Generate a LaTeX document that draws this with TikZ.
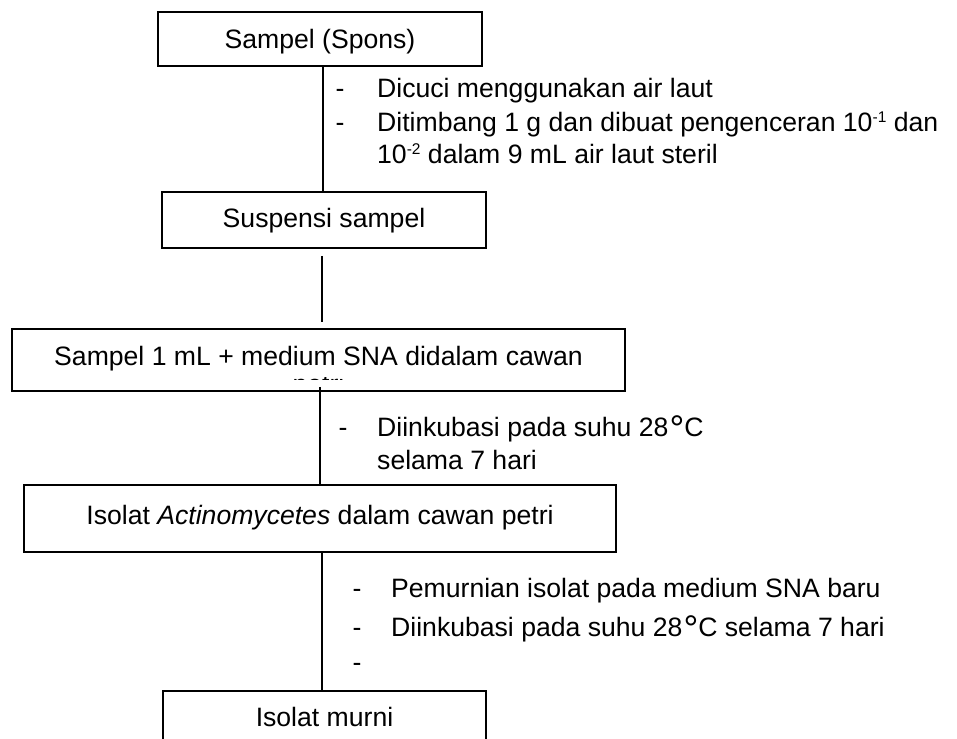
\documentclass[tikz,border=0pt]{standalone}
\usepackage{fontspec}
\setmainfont{Liberation Sans}
\newcommand\supx[1]{\raisebox{0.36em}{\fontsize{15.5}{16}\selectfont #1}}
\newcommand\degx{\hspace{1pt}\raisebox{-5.5pt}{\fontsize{37}{37}\selectfont °}}
\begin{document}
\begin{tikzpicture}[x=1pt,y=-1pt,
  box/.style={draw, line width=1.8pt, inner sep=0pt},
  lbl/.style={inner sep=0pt, anchor=base, font=\fontsize{26.6}{32}\selectfont},
  item/.style={lbl, anchor=base west},
  dashmark/.style={lbl},
  conn/.style={line width=1.8pt}]
\useasboundingbox (0,0) rectangle (957,738);
\begin{scope}
\clip (0,0) rectangle (957,738);
% boxes
\node[box, minimum width=324, minimum height=54] (b1) at (320,39) {};
\node[box, minimum width=324, minimum height=56] (b2) at (324,220) {};
\node[box, minimum width=613, minimum height=62] (b3) at (318.5,360) {};
\node[box, minimum width=592, minimum height=67] (b4) at (320,518.5) {};
\node[box, minimum width=323, minimum height=58] (b5) at (324.5,720) {};
% box texts
\node[lbl] (t1) at (320,48.5) {Sampel (Spons)};
\node[lbl] (t2) at (324,227) {Suspensi sampel};
\node[lbl] (t3) at (318.5,365.5) {Sampel 1 mL + medium SNA didalam cawan};
\begin{scope}
\clip (280,377.6) rectangle (360,379.8);
\node[lbl] (t3b) at (318.5,393.5) {petri};
\end{scope}
\node[lbl] (t4) at (320,524) {Isolat \textit{Actinomycetes} dalam cawan petri};
\node[lbl] (t5) at (324.5,726) {Isolat murni};
% connectors
\coordinate (L1) at (323,0);
\coordinate (L2) at (322,0);
\coordinate (L3) at (320,0);
\coordinate (L4) at (322,0);
\draw[conn] (b1.south -| L1) -- (b2.north -| L1);
\draw[conn, shorten <=7pt, shorten >=6pt] (b2.south -| L2) -- (b3.north -| L2);
\draw[conn, shorten <=-5pt] (b3.south -| L3) -- (b4.north -| L3);
\draw[conn] (b4.south -| L4) -- (b5.north -| L4);
% group 1
\node[dashmark] (d11) at (340,98) {-};
\node[dashmark] (d12) at (340,132) {-};
\node[item] (s11) at (377,98) {Dicuci menggunakan air laut};
\node[item] (s12) at (377,132) {Ditimbang 1 g dan dibuat pengenceran 10\supx{-1} dan};
\node[item] (s13) at (377,164) {10\supx{-2} dalam 9 mL air laut steril};
% group 2
\node[dashmark] (d21) at (343,436) {-};
\node[item] (s21) at (377,436) {Diinkubasi pada suhu 28\degx C};
\node[item] (s22) at (377,469) {selama 7 hari};
% group 3
\node[dashmark] (d31) at (357,597) {-};
\node[dashmark] (d32) at (357,636) {-};
\node[dashmark] (d33) at (357,671) {-};
\node[item] (s31) at (391,597) {Pemurnian isolat pada medium SNA baru};
\node[item] (s32) at (391,636) {Diinkubasi pada suhu 28\degx C selama 7 hari};
\end{scope}
\end{tikzpicture}
\end{document}
